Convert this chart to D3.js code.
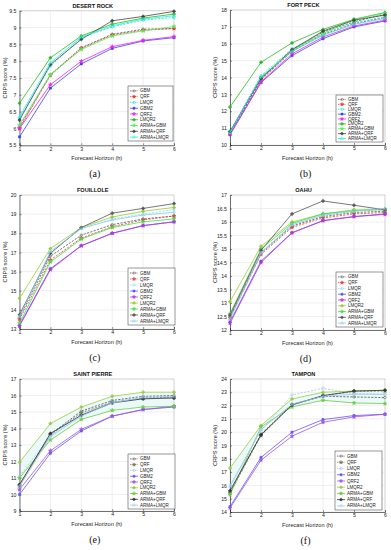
<!DOCTYPE html>
<html><head><meta charset="utf-8">
<script src="https://cdn.jsdelivr.net/npm/d3@7"></script>
<style>body{margin:0;background:#fff}svg{display:block}</style>
</head><body>
<script>
// ---------- data ----------
const horizons = [1, 2, 3, 4, 5, 6];
const seriesNames = ["GBM","QRF","LMQR","GBM2","QRF2","LMQR2","ARMA+GBM","ARMA+QRF","ARMA+LMQR"];
const panelTitles = ["DESERT ROCK","FORT PECK","FOUILLOLE","OAHU","SAINT PIERRE","TAMPON"];
const panelLetters = ["(a)","(b)","(c)","(d)","(e)","(f)"];
const yDomains = [[5.5,9.5],[10,18],[13,20],[12,17],[9,17],[14,24]];
const yTickSteps = [0.5, 1, 1, 0.5, 1, 1];

const desertRock = [
  [6.05,7.6,8.4,8.8,8.95,8.97],
  [6.0,7.58,8.38,8.78,8.92,8.97],
  [6.3,7.85,8.7,9.02,9.22,9.3],
  [5.75,7.2,7.92,8.38,8.6,8.7],
  [6.0,7.3,8.0,8.43,8.62,8.73],
  [6.75,8.1,8.75,9.1,9.28,9.4],
  [6.1,7.6,8.35,8.75,8.9,9.03],
  [6.25,7.9,8.65,9.2,9.33,9.48],
  [6.35,7.95,8.72,9.05,9.25,9.35]
];
const fortPeck = [
  [10.7,13.9,15.6,16.7,17.3,17.75],
  [10.7,13.85,15.55,16.55,17.2,17.55],
  [10.8,14.1,15.7,16.6,17.25,17.6],
  [10.6,13.7,15.3,16.3,17.0,17.35],
  [10.65,13.75,15.4,16.4,17.05,17.4],
  [12.25,14.9,16.05,16.85,17.45,17.85],
  [10.75,14.0,15.6,16.6,17.45,17.8],
  [10.8,13.95,15.65,16.75,17.4,17.7],
  [10.75,14.05,15.55,16.5,17.15,17.5]
];
const fouillole = [
  [13.6,16.8,17.9,18.45,18.75,18.9],
  [13.5,16.6,17.75,18.35,18.7,18.9],
  [13.7,17.0,18.25,18.75,19.0,19.25],
  [13.2,16.15,17.35,18.0,18.4,18.6],
  [13.15,16.1,17.35,18.0,18.4,18.6],
  [14.6,17.2,18.3,18.85,19.15,19.35],
  [13.3,16.5,17.7,18.3,18.6,18.75],
  [13.75,16.95,18.3,19.05,19.3,19.55],
  [13.65,17.05,18.25,18.7,18.95,19.1]
];
const oahu = [
  [12.5,14.85,15.85,16.2,16.35,16.4],
  [12.45,14.8,15.8,16.15,16.3,16.35],
  [12.55,14.9,15.9,16.25,16.4,16.45],
  [12.3,14.55,15.6,16.05,16.2,16.3],
  [12.25,14.5,15.6,16.05,16.2,16.28],
  [13.05,15.1,16.0,16.3,16.45,16.45],
  [12.6,15.0,15.95,16.3,16.42,16.48],
  [12.55,14.95,16.3,16.78,16.62,16.45],
  [12.4,14.85,15.9,16.25,16.4,16.5]
];
const saintPierre = [
  [10.6,13.65,15.05,15.7,15.95,16.0],
  [10.5,13.6,14.95,15.6,15.85,15.9],
  [11.1,13.55,14.85,15.6,15.8,15.85],
  [10.0,12.5,13.85,14.75,15.15,15.3],
  [10.3,12.65,13.95,14.75,15.15,15.35],
  [11.95,14.3,15.3,15.95,16.2,16.2],
  [11.0,13.3,14.55,15.1,15.3,15.35],
  [10.6,13.7,14.8,15.55,15.8,15.85],
  [10.5,13.5,14.75,15.55,15.9,15.95]
];
const tampon = [
  [15.5,19.85,22.1,22.7,22.65,22.6],
  [15.4,19.75,22.05,22.75,23.05,23.1],
  [16.0,20.1,22.8,23.3,22.9,22.85],
  [14.4,18.1,20.0,20.95,21.25,21.35],
  [14.3,17.9,19.7,20.75,21.15,21.35],
  [17.3,20.5,22.5,23.0,23.1,23.15],
  [15.3,20.4,21.9,22.4,22.2,22.15],
  [15.6,19.8,22.05,22.75,23.1,23.15],
  [15.9,20.2,22.1,22.7,22.85,22.85]
];
const panelData = [desertRock, fortPeck, fouillole, oahu, saintPierre, tampon];

// ---------- styles / layout ----------
const paletteA = ["#555","#ee3333","#22dddd","#3344ee","#ee22ee","#22bb22","#55ee55","#444","#22eedd"];
const paletteB = ["#555","#dd4444","#88ddee","#5555ee","#bb33dd","#99cc33","#44dd44","#555","#88ccee"];
const paletteC = ["#555","#777755","#99ccee","#6655ee","#9955ee","#99cc44","#66cc44","#333","#99ccee"];
const palettes = [paletteA, paletteA, paletteB, paletteB, paletteC, paletteC];
const dashed = [true,true,true,false,false,false,false,false,false];
const markers = [d3.symbolCircle, d3.symbolStar, d3.symbolSquare, d3.symbolSquare, d3.symbolStar, d3.symbolCross, d3.symbolStar, d3.symbolCross, d3.symbolTriangle];
const filled = [false,true,false,true,true,true,true,true,false];

const layouts = [
  {x0:19.5,x1:174,y0:10.7,y1:145.3, lg:[128,86,45,55]},
  {x0:230,x1:385,y0:10,y1:145, lg:[336,95,47,47]},
  {x0:19.5,x1:174,y0:195,y1:329, lg:[128,268,47,57]},
  {x0:230,x1:385,y0:195,y1:330, lg:[336,272,47,55]},
  {x0:19.5,x1:174,y0:379,y1:511, lg:[128,454,47,55]},
  {x0:230,x1:385,y0:379,y1:512, lg:[335,451,47,59]}
];

const svg = d3.select("body").append("svg").attr("width",391).attr("height",550)
  .style("font-family","'Liberation Sans', Arial, sans-serif");

panelData.forEach((data, p) => {
  const L = layouts[p];
  const pal = palettes[p];
  const x = d3.scaleLinear().domain([1,6]).range([L.x0, L.x1]);
  const y = d3.scaleLinear().domain(yDomains[p]).range([L.y1, L.y0]);
  const g = svg.append("g");
  const step = yTickSteps[p];
  const yTicks = d3.range(yDomains[p][0], yDomains[p][1] + step/2, step);

  // grid
  g.append("g").selectAll("line.vg").data(horizons).join("line")
    .attr("x1", d=>x(d)).attr("x2", d=>x(d)).attr("y1", L.y0).attr("y2", L.y1)
    .attr("stroke","#e4e4e4").attr("stroke-width",0.6);
  g.append("g").selectAll("line.hg").data(yTicks).join("line")
    .attr("y1", d=>y(d)).attr("y2", d=>y(d)).attr("x1", L.x0).attr("x2", L.x1)
    .attr("stroke","#e4e4e4").attr("stroke-width",0.6);

  // faint band (e, f)
  if (p >= 4) {
    const area = d3.area().x((d,i)=>x(horizons[i])).y0((d,i)=>y(data[6][i])).y1((d,i)=>y(data[5][i]));
    g.append("path").datum(data[5]).attr("d", area).attr("fill","#e6f8f8").attr("opacity",0.8);
  }

  // axes
  const ax = g.append("g").attr("transform",`translate(0,${L.y1})`)
    .call(d3.axisBottom(x).tickValues(horizons).tickFormat(d3.format("d")).tickSize(-2).tickPadding(1.8));
  const ay = g.append("g").attr("transform",`translate(${L.x0},0)`)
    .call(d3.axisLeft(y).tickValues(yTicks).tickFormat(d=>d3.format("~g")(d)).tickSize(-2).tickPadding(3));
  [ax, ay].forEach(a => {
    a.select(".domain").attr("stroke","#333").attr("stroke-width",0.7);
    a.selectAll(".tick line").attr("stroke","#333").attr("stroke-width",0.5);
    a.selectAll(".tick text").attr("font-size",5.2).attr("fill","#222").attr("font-family","'Liberation Sans', Arial, sans-serif");
  });
  g.append("path").attr("d",`M${L.x0},${L.y0}H${L.x1}V${L.y1}`).attr("fill","none").attr("stroke","#bbb").attr("stroke-width",0.5);

  // lines
  const line = d3.line().x((d,i)=>x(horizons[i])).y(d=>y(d));
  data.forEach((vals, s) => {
    g.append("path").datum(vals).attr("d", line).attr("fill","none")
      .attr("stroke", pal[s]).attr("stroke-width", 0.8)
      .attr("stroke-dasharray", dashed[s] ? "2.2,1.3" : null);
    g.append("g").selectAll("path").data(vals).join("path")
      .attr("transform",(d,i)=>`translate(${x(horizons[i])},${y(d)})`)
      .attr("d", d3.symbol().type(markers[s]).size(5))
      .attr("fill", filled[s] ? pal[s] : "none").attr("stroke", pal[s]).attr("stroke-width",0.5);
  });

  // title
  g.append("text").attr("x",(L.x0+L.x1)/2 - 4).attr("y",L.y0-3).attr("text-anchor","middle")
    .attr("font-size",5.6).attr("font-weight","bold").attr("fill","#111").text(panelTitles[p]);
  // axis titles
  g.append("text").attr("x",(L.x0+L.x1)/2).attr("y",L.y1+14.5).attr("text-anchor","middle")
    .attr("font-size",5.6).attr("fill","#222").text("Forecast Horizon (h)");
  g.append("text").attr("transform",`translate(${L.x0-13},${(L.y0+L.y1)/2}) rotate(-90)`)
    .attr("text-anchor","middle").attr("font-size",5.6).attr("fill","#222").text("CRPS score (%)");
  // panel letter
  g.append("text").attr("x",(L.x0+L.x1)/2 - 2).attr("y",L.y1+32).attr("text-anchor","middle")
    .attr("font-family","'Liberation Serif', 'DejaVu Serif', serif").attr("font-size",10).attr("fill","#111").text(panelLetters[p]);

  // legend
  const [lx, ly, lw, lh] = L.lg;
  g.append("rect").attr("x",lx).attr("y",ly).attr("width",lw).attr("height",lh)
    .attr("fill","#fff").attr("stroke","#333").attr("stroke-width",0.5);
  const rowH = (lh - 3) / seriesNames.length;
  seriesNames.forEach((name, s) => {
    const cy = ly + 2 + rowH*(s+0.5);
    g.append("line").attr("x1",lx+2).attr("x2",lx+10).attr("y1",cy).attr("y2",cy)
      .attr("stroke",pal[s]).attr("stroke-width",0.8).attr("stroke-dasharray", dashed[s] ? "1.5,1" : null);
    g.append("path").attr("transform",`translate(${lx+6},${cy})`)
      .attr("d", d3.symbol().type(markers[s]).size(4))
      .attr("fill", filled[s] ? pal[s] : "none").attr("stroke", pal[s]).attr("stroke-width",0.5);
    g.append("text").attr("x",lx+12).attr("y",cy+1.6).attr("font-size",4.5).attr("fill","#222").text(name);
  });
});
</script>
</body></html>
